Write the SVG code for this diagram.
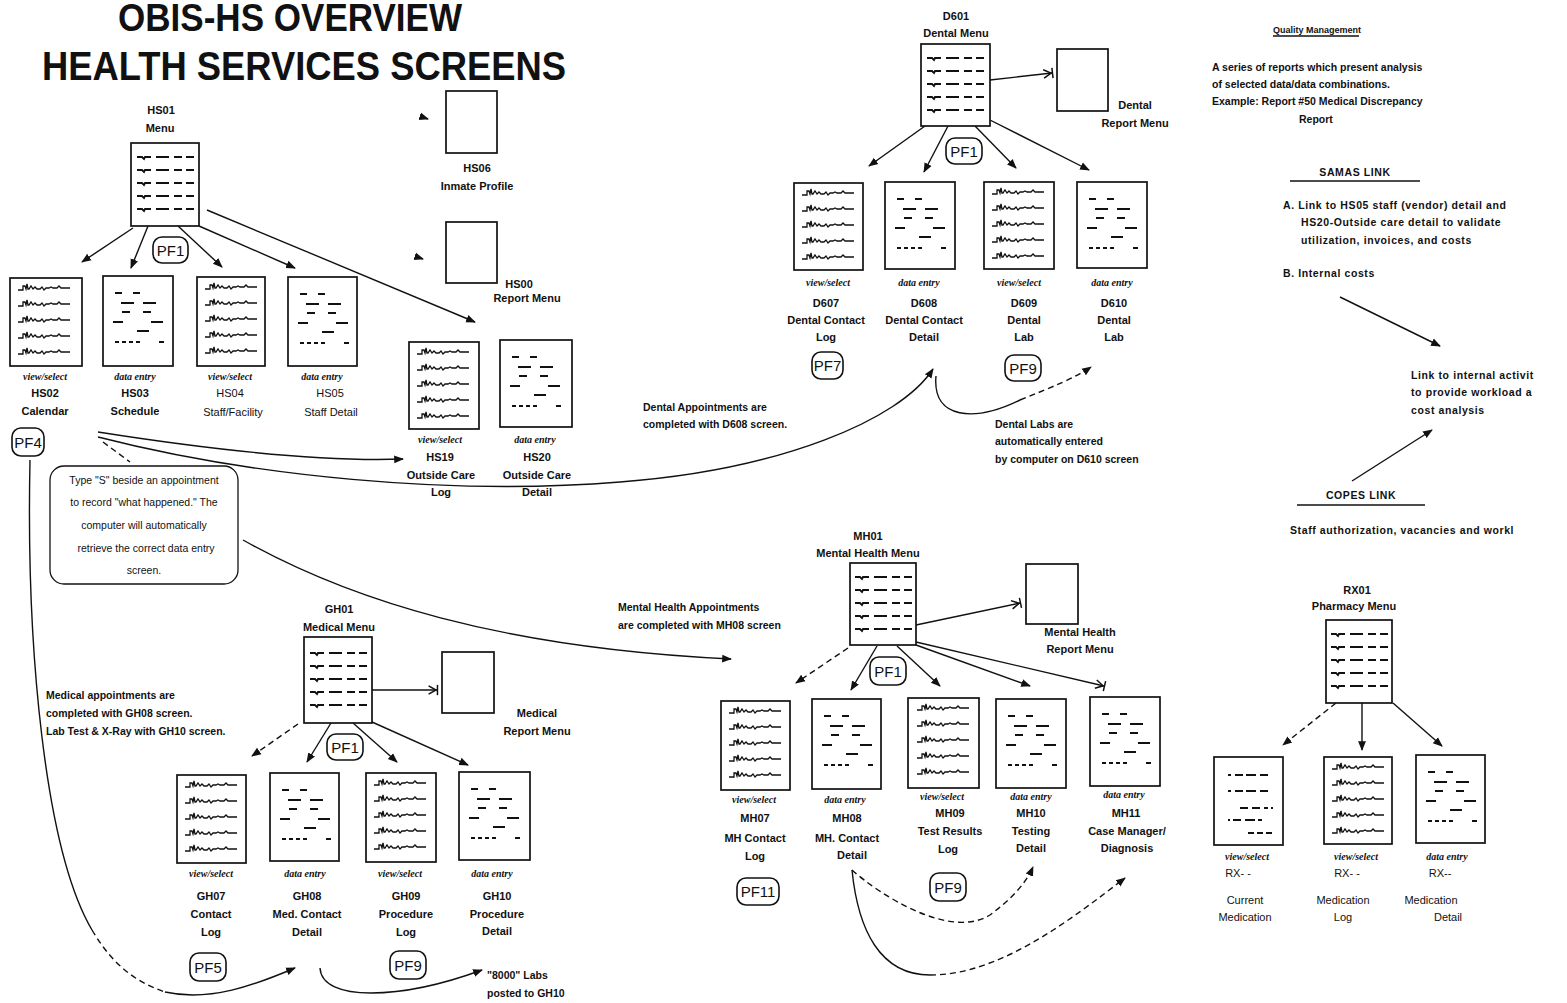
<svg xmlns="http://www.w3.org/2000/svg" xmlns:xlink="http://www.w3.org/1999/xlink" width="1567" height="1003" viewBox="0 0 1567 1003">
<style>
.bg{fill:#fff}
.box{fill:#fff;stroke:#111;stroke-width:1.7}
.t{font-family:"Liberation Sans",Arial,sans-serif;font-weight:bold;font-size:11px;text-anchor:middle;fill:#111}
.tl{font-family:"Liberation Sans",Arial,sans-serif;font-weight:bold;font-size:10.5px;fill:#111}
.r{font-family:"Liberation Sans",Arial,sans-serif;font-weight:bold;font-size:10.5px;letter-spacing:0.6px;fill:#111}
.hw{font-family:"Liberation Sans",Arial,sans-serif;font-size:11px;text-anchor:middle;fill:#111}
.note{font-family:"Liberation Sans",Arial,sans-serif;font-size:10.5px;text-anchor:middle;fill:#111}
.s{font-family:"Liberation Serif","Times New Roman",serif;font-style:italic;font-weight:bold;font-size:10px;text-anchor:middle;fill:#111}
.title{font-family:"Liberation Sans",Arial,sans-serif;font-weight:bold;font-size:40px;text-anchor:middle;fill:#111}
.pf rect{fill:#fff;stroke:#111;stroke-width:1.6}
.pf text{font-family:"Liberation Sans",Arial,sans-serif;font-size:15px;text-anchor:middle;fill:#111}
.ln{fill:none;stroke:#111;stroke-width:1.4}
.dash{stroke-dasharray:6 4}
.pat{fill:none;stroke:#111;stroke-width:1.8}
.pat2{fill:none;stroke:#111;stroke-width:1.3}
.ul{stroke:#111;stroke-width:1.3}
</style>
<defs>
<marker id="arr" viewBox="0 0 10 10" refX="9" refY="5" markerWidth="7" markerHeight="7" orient="auto"><path d="M0,1 L10,5 L0,9 z" fill="#111"/></marker>
<marker id="arrBar" viewBox="0 0 12 12" refX="10" refY="6" markerWidth="8" markerHeight="8" orient="auto"><path d="M1,1.5 L9,6 L1,10.5" fill="none" stroke="#111" stroke-width="1.6"/><path d="M10.5,0.5 V11.5" stroke="#111" stroke-width="1.6"/></marker>
<g id="menuRows">
<path class="pat" d="M6,14 h5 l2,2 l1,-2 h6 M6,27 h5 l2,2 l1,-2 h6 M6,40 h5 l2,2 l1,-2 h6 M6,53 h5 l2,2 l1,-2 h6 M6,66 h5 l2,2 l1,-2 h6"/>
<path class="pat" d="M25,14 h13 M43,14 h8 M55,14 h8 M25,27 h13 M43,27 h8 M55,27 h8 M25,40 h13 M43,40 h8 M55,40 h8 M25,53 h13 M43,53 h8 M55,53 h8 M25,66 h13 M43,66 h8 M55,66 h8"/>
</g>
<path id="logRow" class="pat2" d="M8,0 h5 v-4 h2 l1,3 l1,-5 l1,5 h1 l2,-3 l2,3 l2,-2 l2,2 h3 l2,-2 l2,3 l2,-2 h3 l2,-1 l2,1 h4 l2,-2 l2,2 h9"/>
<g id="logRows">
<use xlink:href="#logRow" href="#logRow" y="12"/>
<use xlink:href="#logRow" href="#logRow" y="28"/>
<use xlink:href="#logRow" href="#logRow" y="44"/>
<use xlink:href="#logRow" href="#logRow" y="60"/>
<use xlink:href="#logRow" href="#logRow" y="76"/>
</g>
<path id="entry" class="pat" d="M12,17 h7 M30,17 h7 M18,27 h13 M40,27 h13 M19,36 h8 M40,36 h8 M10,46 h10 M48,46 h12 M34,55 h12 M12,66 h4 M19,66 h4 M26,66 h4 M33,66 h4 M56,66 h5"/>
<path id="medRows" class="pat" d="M14,18 h3 M21,18 h8 M32,18 h10 M46,18 h8 M14,34 h3 M21,34 h8 M32,34 h10 M46,34 h8 M26,51 h8 M38,51 h8 M50,51 h4 M57,51 h2 M14,63 h2 M19,63 h8 M31,63 h10 M44,63 h4 M34,76 h6 M43,76 h6 M52,76 h6"/>
</defs>
<rect class="bg" x="0" y="0" width="1567" height="1003"/>

<g id="title">
<text class="title" x="290" y="31" style="font-size:38px" textLength="344" lengthAdjust="spacingAndGlyphs">OBIS-HS OVERVIEW</text>
<text class="title" x="304" y="80" textLength="524" lengthAdjust="spacingAndGlyphs">HEALTH SERVICES SCREENS</text>
</g>

<g id="connectors">
<!-- HS01 -->
<path class="ln" d="M133,228 L82,262" marker-end="url(#arr)"/>
<path class="ln" d="M148,226 L131,268" marker-end="url(#arr)"/>
<path class="ln" d="M178,226 L222,267" marker-end="url(#arr)"/>
<path class="ln" d="M199,226 L295,268" marker-end="url(#arr)"/>
<path class="ln" d="M207,210 L475,322" marker-end="url(#arr)"/>
<path class="ln" d="M422,117 L428,119" marker-end="url(#arr)"/>
<path class="ln" d="M417,257 L423,259" marker-end="url(#arr)"/>
<!-- PF4 curves -->
<path class="ln" d="M98,432 C 200,448 320,462 403,459" marker-end="url(#arr)"/>
<path class="ln" d="M98,437 C 250,476 450,496 620,482 C 780,470 900,420 933,369" marker-end="url(#arr)"/>
<path class="ln dash" d="M103,442 L130,462"/>
<path class="ln" d="M243,540 C 350,600 500,648 731,659" marker-end="url(#arr)"/>
<path class="ln" d="M30,460 C 26,650 45,850 92,930"/>
<path class="ln dash" d="M92,930 C 110,960 130,980 165,992"/>
<path class="ln" d="M165,992 C 210,1002 255,985 295,968" marker-end="url(#arr)"/>
<!-- D601 -->
<path class="ln" d="M990,80 L1052,73" marker-end="url(#arrBar)"/>
<path class="ln" d="M925,126 L869,166" marker-end="url(#arr)"/>
<path class="ln" d="M948,126 L924,172" marker-end="url(#arr)"/>
<path class="ln" d="M975,126 L1016,168" marker-end="url(#arr)"/>
<path class="ln" d="M990,120 L1089,170" marker-end="url(#arr)"/>
<path class="ln" d="M936,376 C 932,420 975,422 1020,400"/>
<path class="ln dash" d="M1020,400 C 1050,388 1075,378 1091,367" marker-end="url(#arr)"/>
<!-- right column -->
<path class="ln" d="M1340,297 L1440,346" marker-end="url(#arr)"/>
<path class="ln" d="M1352,481 L1432,430" marker-end="url(#arr)"/>
<!-- RX01 -->
<path class="ln dash" d="M1336,703 L1283,745" marker-end="url(#arr)"/>
<path class="ln" d="M1362,703 L1362,750" marker-end="url(#arr)"/>
<path class="ln" d="M1393,703 L1442,746" marker-end="url(#arr)"/>
<!-- MH01 -->
<path class="ln" d="M916,625 L1020,603" marker-end="url(#arrBar)"/>
<path class="ln dash" d="M848,648 L796,683" marker-end="url(#arr)"/>
<path class="ln" d="M877,646 L851,690" marker-end="url(#arr)"/>
<path class="ln" d="M897,646 L940,686" marker-end="url(#arr)"/>
<path class="ln" d="M916,645 L1030,686" marker-end="url(#arr)"/>
<path class="ln" d="M916,642 L1104,686" marker-end="url(#arrBar)"/>
<path class="ln dash" d="M852,870 C 880,895 950,940 990,915 C 1010,900 1025,885 1033,867" marker-end="url(#arr)"/>
<path class="ln" d="M852,870 C 858,930 880,975 930,975"/>
<path class="ln dash" d="M930,975 C 1000,975 1070,920 1125,878" marker-end="url(#arr)"/>
<!-- GH01 -->
<path class="ln" d="M372,690 L437,690" marker-end="url(#arrBar)"/>
<path class="ln dash" d="M298,724 L252,756" marker-end="url(#arr)"/>
<path class="ln" d="M331,723 L307,762" marker-end="url(#arr)"/>
<path class="ln" d="M353,723 L397,762" marker-end="url(#arr)"/>
<path class="ln" d="M372,722 L468,765" marker-end="url(#arr)"/>
<path class="ln" d="M320,968 C 322,1002 400,1000 482,970" marker-end="url(#arr)"/>
</g>

<!-- HS group -->
<g id="HS01">
<text class="t" x="161" y="114">HS01</text>
<text class="t" x="160" y="132">Menu</text>
<rect class="box" x="131" y="143" width="68" height="83"/>
<use xlink:href="#menuRows" href="#menuRows" x="131" y="143"/>
</g>
<g id="PF1-HS" class="pf"><rect x="153" y="237" width="35" height="26" rx="9"/><text x="170.5" y="256">PF1</text></g>
<g id="HS02">
<rect class="box" x="10" y="278" width="72" height="88"/>
<use xlink:href="#logRows" href="#logRows" x="10" y="278"/>
<text class="s" x="45" y="380">view/select</text>
<text class="t" x="45" y="397">HS02</text>
<text class="t" x="45" y="415">Calendar</text>
</g>
<g id="HS03">
<rect class="box" x="103" y="276" width="70" height="90"/>
<use xlink:href="#entry" href="#entry" x="103" y="276"/>
<text class="s" x="135" y="380">data entry</text>
<text class="t" x="135" y="397">HS03</text>
<text class="t" x="135" y="415">Schedule</text>
</g>
<g id="HS04">
<rect class="box" x="197" y="277" width="68" height="89"/>
<use xlink:href="#logRows" href="#logRows" x="197" y="277"/>
<text class="s" x="230" y="380">view/select</text>
<text class="hw" x="230" y="397">HS04</text>
<text class="hw" x="233" y="416">Staff/Facility</text>
</g>
<g id="HS05">
<rect class="box" x="288" y="277" width="69" height="89"/>
<use xlink:href="#entry" href="#entry" x="288" y="277"/>
<text class="s" x="322" y="380">data entry</text>
<text class="hw" x="330" y="397">HS05</text>
<text class="hw" x="331" y="416">Staff Detail</text>
</g>
<g id="PF4" class="pf"><rect x="12" y="428" width="32" height="28" rx="9"/><text x="28" y="448">PF4</text></g>
<g id="HS06">
<rect class="box" x="446" y="91" width="51" height="62"/>
<text class="t" x="477" y="172">HS06</text>
<text class="t" x="477" y="190">Inmate Profile</text>
</g>
<g id="HS00">
<rect class="box" x="446" y="222" width="51" height="61"/>
<text class="t" x="519" y="288">HS00</text>
<text class="t" x="527" y="302">Report Menu</text>
</g>
<g id="HS19">
<rect class="box" x="409" y="342" width="70" height="87"/>
<use xlink:href="#logRows" href="#logRows" x="409" y="342"/>
<text class="s" x="440" y="443">view/select</text>
<text class="t" x="440" y="461">HS19</text>
<text class="t" x="441" y="479">Outside Care</text>
<text class="t" x="441" y="496">Log</text>
</g>
<g id="HS20">
<rect class="box" x="500" y="340" width="72" height="87"/>
<use xlink:href="#entry" href="#entry" x="500" y="340"/>
<text class="s" x="535" y="443">data entry</text>
<text class="t" x="537" y="461">HS20</text>
<text class="t" x="537" y="479">Outside Care</text>
<text class="t" x="537" y="496">Detail</text>
</g>
<g id="note-S">
<rect x="50" y="466" width="188" height="118" rx="14" fill="none" stroke="#111" stroke-width="1.3"/>
<text class="note" x="144" y="484">Type "S" beside an appointment</text>
<text class="note" x="144" y="506">to record "what happened." The</text>
<text class="note" x="144" y="529">computer will automatically</text>
<text class="note" x="146" y="552">retrieve the correct data entry</text>
<text class="note" x="144" y="574">screen.</text>
</g>

<!-- Dental -->
<g id="D601">
<text class="t" x="956" y="20">D601</text>
<text class="t" x="956" y="37">Dental Menu</text>
<rect class="box" x="921" y="44" width="69" height="82"/>
<use xlink:href="#menuRows" href="#menuRows" x="921" y="44"/>
</g>
<g id="D6-report">
<rect class="box" x="1057" y="49" width="51" height="62"/>
<text class="t" x="1135" y="109">Dental</text>
<text class="t" x="1135" y="127">Report Menu</text>
</g>
<g id="PF1-D" class="pf"><rect x="946" y="138" width="36" height="26" rx="9"/><text x="964" y="157">PF1</text></g>
<g id="D607">
<rect class="box" x="794" y="183" width="69" height="87"/>
<use xlink:href="#logRows" href="#logRows" x="794" y="183"/>
<text class="s" x="828" y="286">view/select</text>
<text class="t" x="826" y="307">D607</text>
<text class="t" x="826" y="324">Dental Contact</text>
<text class="t" x="826" y="341">Log</text>
</g>
<g id="D608">
<rect class="box" x="885" y="182" width="70" height="87"/>
<use xlink:href="#entry" href="#entry" x="885" y="182"/>
<text class="s" x="919" y="286">data entry</text>
<text class="t" x="924" y="307">D608</text>
<text class="t" x="924" y="324">Dental Contact</text>
<text class="t" x="924" y="341">Detail</text>
</g>
<g id="D609">
<rect class="box" x="984" y="182" width="70" height="87"/>
<use xlink:href="#logRows" href="#logRows" x="984" y="182"/>
<text class="s" x="1019" y="286">view/select</text>
<text class="t" x="1024" y="307">D609</text>
<text class="t" x="1024" y="324">Dental</text>
<text class="t" x="1024" y="341">Lab</text>
</g>
<g id="D610">
<rect class="box" x="1077" y="182" width="70" height="86"/>
<use xlink:href="#entry" href="#entry" x="1077" y="182"/>
<text class="s" x="1112" y="286">data entry</text>
<text class="t" x="1114" y="307">D610</text>
<text class="t" x="1114" y="324">Dental</text>
<text class="t" x="1114" y="341">Lab</text>
</g>
<g id="PF7" class="pf"><rect x="812" y="352" width="31" height="27" rx="9"/><text x="827.5" y="371">PF7</text></g>
<g id="PF9-D" class="pf"><rect x="1005" y="355" width="36" height="26" rx="9"/><text x="1023" y="374">PF9</text></g>
<g id="note-dental">
<text class="tl" x="643" y="411">Dental Appointments are</text>
<text class="tl" x="643" y="428">completed with D608 screen.</text>
<text class="tl" x="995" y="428">Dental Labs are</text>
<text class="tl" x="995" y="445">automatically entered</text>
<text class="tl" x="995" y="463">by computer on D610 screen</text>
</g>

<!-- Right column -->
<g id="quality">
<text class="tl" x="1273" y="33" style="font-size:9px">Quality Management</text>
<line class="ul" x1="1273" y1="36" x2="1359" y2="36"/>
<text class="tl" x="1212" y="71">A series of reports which present analysis</text>
<text class="tl" x="1212" y="88">of selected data/data combinations.</text>
<text class="tl" x="1212" y="105">Example:  Report #50 Medical Discrepancy</text>
<text class="tl" x="1299" y="123">Report</text>
</g>
<g id="samas">
<text class="r" x="1355" y="176" text-anchor="middle">SAMAS LINK</text>
<line class="ul" x1="1290" y1="181" x2="1420" y2="181"/>
<text class="r" x="1283" y="209">A. Link to HS05 staff (vendor) detail and</text>
<text class="r" x="1301" y="226">HS20-Outside care detail to validate</text>
<text class="r" x="1301" y="244">utilization, invoices, and costs</text>
<text class="r" x="1283" y="277">B. Internal costs</text>
</g>
<g id="internal">
<text class="r" x="1411" y="379">Link to internal activit</text>
<text class="r" x="1411" y="396">to provide workload a</text>
<text class="r" x="1411" y="414">cost analysis</text>
</g>
<g id="copes">
<text class="r" x="1361" y="499" text-anchor="middle">COPES LINK</text>
<line class="ul" x1="1297" y1="505" x2="1425" y2="505"/>
<text class="r" x="1290" y="534">Staff authorization, vacancies and workl</text>
</g>

<!-- RX -->
<g id="RX01">
<text class="t" x="1357" y="594">RX01</text>
<text class="t" x="1354" y="610">Pharmacy Menu</text>
<rect class="box" x="1326" y="620" width="66" height="83"/>
<use xlink:href="#menuRows" href="#menuRows" x="1325" y="620"/>
</g>
<g id="RX-current">
<rect class="box" x="1214" y="757" width="69" height="88"/>
<use xlink:href="#medRows" href="#medRows" x="1214" y="757"/>
<text class="s" x="1247" y="860">view/select</text>
<text class="hw" x="1238" y="877">RX- -</text>
<text class="hw" x="1245" y="904">Current</text>
<text class="hw" x="1245" y="921">Medication</text>
</g>
<g id="RX-log">
<rect class="box" x="1324" y="757" width="68" height="87"/>
<use xlink:href="#logRows" href="#logRows" x="1324" y="757"/>
<text class="s" x="1356" y="860">view/select</text>
<text class="hw" x="1347" y="877">RX- -</text>
<text class="hw" x="1343" y="904">Medication</text>
<text class="hw" x="1343" y="921">Log</text>
</g>
<g id="RX-detail">
<rect class="box" x="1416" y="755" width="69" height="88"/>
<use xlink:href="#entry" href="#entry" x="1416" y="755"/>
<text class="s" x="1447" y="860">data entry</text>
<text class="hw" x="1440" y="877">RX--</text>
<text class="hw" x="1431" y="904">Medication</text>
<text class="hw" x="1448" y="921">Detail</text>
</g>

<!-- Mental health -->
<g id="MH01">
<text class="t" x="868" y="540">MH01</text>
<text class="t" x="868" y="557">Mental Health Menu</text>
<rect class="box" x="850" y="563" width="66" height="82"/>
<use xlink:href="#menuRows" href="#menuRows" x="849" y="563"/>
</g>
<g id="MH-report">
<rect class="box" x="1026" y="564" width="52" height="60"/>
<text class="t" x="1080" y="636">Mental Health</text>
<text class="t" x="1080" y="653">Report Menu</text>
</g>
<g id="PF1-MH" class="pf"><rect x="870" y="657" width="36" height="28" rx="9"/><text x="888" y="677">PF1</text></g>
<g id="MH07">
<rect class="box" x="721" y="701" width="69" height="89"/>
<use xlink:href="#logRows" href="#logRows" x="721" y="701"/>
<text class="s" x="754" y="803">view/select</text>
<text class="t" x="755" y="822">MH07</text>
<text class="t" x="755" y="842">MH Contact</text>
<text class="t" x="755" y="860">Log</text>
</g>
<g id="MH08">
<rect class="box" x="812" y="699" width="69" height="90"/>
<use xlink:href="#entry" href="#entry" x="812" y="699"/>
<text class="s" x="845" y="803">data entry</text>
<text class="t" x="847" y="822">MH08</text>
<text class="t" x="847" y="842">MH. Contact</text>
<text class="t" x="852" y="859">Detail</text>
</g>
<g id="MH09">
<rect class="box" x="908" y="698" width="71" height="90"/>
<use xlink:href="#logRows" href="#logRows" x="909" y="698"/>
<text class="s" x="942" y="800">view/select</text>
<text class="t" x="950" y="817">MH09</text>
<text class="t" x="950" y="835">Test Results</text>
<text class="t" x="948" y="853">Log</text>
</g>
<g id="MH10">
<rect class="box" x="996" y="699" width="70" height="89"/>
<use xlink:href="#entry" href="#entry" x="996" y="699"/>
<text class="s" x="1031" y="800">data entry</text>
<text class="t" x="1031" y="817">MH10</text>
<text class="t" x="1031" y="835">Testing</text>
<text class="t" x="1031" y="852">Detail</text>
</g>
<g id="MH11">
<rect class="box" x="1090" y="697" width="70" height="89"/>
<use xlink:href="#entry" href="#entry" x="1090" y="697"/>
<text class="s" x="1124" y="798">data entry</text>
<text class="t" x="1126" y="817">MH11</text>
<text class="t" x="1127" y="835">Case Manager/</text>
<text class="t" x="1127" y="852">Diagnosis</text>
</g>
<g id="PF11" class="pf"><rect x="737" y="878" width="42" height="27" rx="9"/><text x="758" y="897">PF11</text></g>
<g id="PF9-MH" class="pf"><rect x="930" y="873" width="36" height="28" rx="9"/><text x="948" y="893">PF9</text></g>
<g id="note-mh">
<text class="tl" x="618" y="611">Mental Health Appointments</text>
<text class="tl" x="618" y="629">are completed with MH08 screen</text>
</g>

<!-- Medical -->
<g id="GH01">
<text class="t" x="339" y="613">GH01</text>
<text class="t" x="339" y="631">Medical Menu</text>
<rect class="box" x="304" y="637" width="68" height="86"/>
<use xlink:href="#menuRows" href="#menuRows" x="304" y="639"/>
</g>
<g id="GH-report">
<rect class="box" x="442" y="652" width="52" height="61"/>
<text class="t" x="537" y="717">Medical</text>
<text class="t" x="537" y="735">Report Menu</text>
</g>
<g id="PF1-GH" class="pf"><rect x="327" y="734" width="36" height="26" rx="9"/><text x="345" y="753">PF1</text></g>
<g id="GH07">
<rect class="box" x="177" y="775" width="69" height="88"/>
<use xlink:href="#logRows" href="#logRows" x="177" y="775"/>
<text class="s" x="211" y="877">view/select</text>
<text class="t" x="211" y="900">GH07</text>
<text class="t" x="211" y="918">Contact</text>
<text class="t" x="211" y="936">Log</text>
</g>
<g id="GH08">
<rect class="box" x="270" y="773" width="69" height="88"/>
<use xlink:href="#entry" href="#entry" x="270" y="773"/>
<text class="s" x="305" y="877">data entry</text>
<text class="t" x="307" y="900">GH08</text>
<text class="t" x="307" y="918">Med. Contact</text>
<text class="t" x="307" y="936">Detail</text>
</g>
<g id="GH09">
<rect class="box" x="366" y="773" width="70" height="89"/>
<use xlink:href="#logRows" href="#logRows" x="366" y="773"/>
<text class="s" x="400" y="877">view/select</text>
<text class="t" x="406" y="900">GH09</text>
<text class="t" x="406" y="918">Procedure</text>
<text class="t" x="406" y="936">Log</text>
</g>
<g id="GH10">
<rect class="box" x="459" y="772" width="71" height="88"/>
<use xlink:href="#entry" href="#entry" x="459" y="772"/>
<text class="s" x="492" y="877">data entry</text>
<text class="t" x="497" y="900">GH10</text>
<text class="t" x="497" y="918">Procedure</text>
<text class="t" x="497" y="935">Detail</text>
</g>
<g id="PF5" class="pf"><rect x="190" y="953" width="36" height="28" rx="9"/><text x="208" y="973">PF5</text></g>
<g id="PF9-GH" class="pf"><rect x="390" y="951" width="36" height="28" rx="9"/><text x="408" y="971">PF9</text></g>
<g id="note-medical">
<text class="tl" x="46" y="699">Medical appointments are</text>
<text class="tl" x="46" y="717">completed with GH08 screen.</text>
<text class="tl" x="46" y="735">Lab Test &amp; X-Ray with GH10 screen.</text>
<text class="tl" x="487" y="979">"8000" Labs</text>
<text class="tl" x="487" y="997">posted to GH10</text>
</g>
</svg>
